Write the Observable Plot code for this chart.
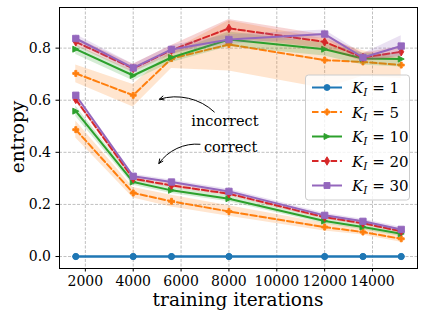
<!DOCTYPE html>
<html>
<head>
<meta charset="utf-8">
<script src="https://cdn.jsdelivr.net/npm/d3@7"></script>
<script src="https://cdn.jsdelivr.net/npm/@observablehq/plot@0.6"></script>
<style>
  html, body { margin: 0; padding: 0; background: #fff; }
  #chart { width: 422px; height: 318px; }
</style>
</head>
<body>
<div id="chart"></div>
<script>
// ---------- data ----------
const iterations = [1600, 4000, 5600, 8000, 12000, 13600, 15200];
const kValues = [1, 5, 10, 20, 30];
const xTicks = [2000, 4000, 6000, 8000, 10000, 12000, 14000];
const yTicks = [0, 0.2, 0.4, 0.6, 0.8];

// "incorrect" group (upper curves)
const incorrectK1  = [0, 0, 0, 0, 0, 0, 0];
const incorrectK5  = [0.703, 0.619, 0.760, 0.814, 0.754, 0.747, 0.735];
const incorrectK10 = [0.796, 0.695, 0.764, 0.833, 0.796, 0.760, 0.758];
const incorrectK20 = [0.824, 0.722, 0.792, 0.876, 0.824, 0.764, 0.786];
const incorrectK30 = [0.837, 0.724, 0.795, 0.833, 0.854, 0.764, 0.808];

const incorrectLoK1  = [0, 0, 0, 0, 0, 0, 0];
const incorrectHiK1  = [0, 0, 0, 0, 0, 0, 0];
const incorrectLoK5  = [0.667, 0.574, 0.722, 0.712, 0.645, 0.692, 0.683];
const incorrectHiK5  = [0.735, 0.660, 0.790, 0.905, 0.835, 0.790, 0.760];
const incorrectLoK10 = [0.776, 0.675, 0.745, 0.805, 0.770, 0.735, 0.728];
const incorrectHiK10 = [0.812, 0.712, 0.782, 0.862, 0.820, 0.780, 0.776];
const incorrectLoK20 = [0.808, 0.706, 0.774, 0.840, 0.800, 0.748, 0.766];
const incorrectHiK20 = [0.840, 0.738, 0.810, 0.910, 0.850, 0.780, 0.806];
const incorrectLoK30 = [0.822, 0.710, 0.780, 0.815, 0.838, 0.750, 0.770];
const incorrectHiK30 = [0.852, 0.738, 0.810, 0.851, 0.870, 0.778, 0.848];

// "correct" group (lower curves)
const correctK1  = [0, 0, 0, 0, 0, 0, 0];
const correctK5  = [0.487, 0.244, 0.212, 0.173, 0.113, 0.094, 0.068];
const correctK10 = [0.558, 0.286, 0.254, 0.222, 0.136, 0.113, 0.087];
const correctK20 = [0.603, 0.299, 0.273, 0.241, 0.151, 0.128, 0.097];
const correctK30 = [0.619, 0.308, 0.286, 0.250, 0.158, 0.135, 0.104];

const correctLoK1  = [0, 0, 0, 0, 0, 0, 0];
const correctHiK1  = [0, 0, 0, 0, 0, 0, 0];
const correctLoK5  = [0.455, 0.225, 0.190, 0.155, 0.098, 0.083, 0.055];
const correctHiK5  = [0.520, 0.265, 0.235, 0.195, 0.128, 0.108, 0.082];
const correctLoK10 = [0.538, 0.274, 0.242, 0.210, 0.126, 0.103, 0.077];
const correctHiK10 = [0.578, 0.298, 0.266, 0.234, 0.146, 0.123, 0.097];
const correctLoK20 = [0.595, 0.291, 0.265, 0.233, 0.143, 0.120, 0.089];
const correctHiK20 = [0.611, 0.307, 0.281, 0.249, 0.159, 0.136, 0.105];
const correctLoK30 = [0.611, 0.300, 0.278, 0.242, 0.150, 0.127, 0.096];
const correctHiK30 = [0.627, 0.316, 0.294, 0.258, 0.166, 0.143, 0.112];

// annotations (data coordinates)
const annotationLabels = ["incorrect", "correct"];
const annotationTextX = [7833, 8071];
const annotationTextY = [0.520, 0.419];
const arrowFromX = [7388, 6792];
const arrowFromY = [0.555, 0.431];
const arrowToX = [5096, 5071];
const arrowToY = [0.604, 0.357];

const xLabel = "training iterations";
const yLabel = "entropy";

// ---------- styles ----------
const colors = ["#1f77b4", "#ff7f0e", "#2ca02c", "#d62728", "#9467bd"];
const dashes = [null, "6.5,2.8", null, "6.5,2.8", null];

const sz = (size) => Math.sqrt(size / Math.PI); // half marker size
const symCircle = { draw(c, size) { const h = sz(size); c.moveTo(h, 0); c.arc(0, 0, h, 0, 2 * Math.PI); } };
const symPlus = { draw(c, size) {
  const h = sz(size), t = h / 3;
  const p = [[-t,-h],[t,-h],[t,-t],[h,-t],[h,t],[t,t],[t,h],[-t,h],[-t,t],[-h,t],[-h,-t],[-t,-t]];
  c.moveTo(p[0][0], p[0][1]); for (let i = 1; i < p.length; i++) c.lineTo(p[i][0], p[i][1]); c.closePath(); } };
const symTriRight = { draw(c, size) { const h = sz(size); c.moveTo(h, 0); c.lineTo(-h, -h); c.lineTo(-h, h); c.closePath(); } };
const symThinDiamond = { draw(c, size) { const h = sz(size); const w = 0.85 * h, v = 1.41 * h;
  c.moveTo(0, -v); c.lineTo(w, 0); c.lineTo(0, v); c.lineTo(-w, 0); c.closePath(); } };
const symSquare = { draw(c, size) { const h = sz(size); c.rect(-h, -h, 2 * h, 2 * h); } };
const symbols = [symCircle, symPlus, symTriRight, symThinDiamond, symSquare];

// ---------- build rows ----------
const incorrectMeans = [incorrectK1, incorrectK5, incorrectK10, incorrectK20, incorrectK30];
const incorrectLos = [incorrectLoK1, incorrectLoK5, incorrectLoK10, incorrectLoK20, incorrectLoK30];
const incorrectHis = [incorrectHiK1, incorrectHiK5, incorrectHiK10, incorrectHiK20, incorrectHiK30];
const correctMeans = [correctK1, correctK5, correctK10, correctK20, correctK30];
const correctLos = [correctLoK1, correctLoK5, correctLoK10, correctLoK20, correctLoK30];
const correctHis = [correctHiK1, correctHiK5, correctHiK10, correctHiK20, correctHiK30];

function rowsFor(si) {
  const rows = [];
  [["incorrect", incorrectMeans, incorrectLos, incorrectHis], ["correct", correctMeans, correctLos, correctHis]]
    .forEach(([g, M, L, H]) => {
      iterations.forEach((x, i) => rows.push({ group: g, x, y: M[si][i], lo: L[si][i], hi: H[si][i] }));
    });
  return rows;
}

const font = "DejaVu Serif";
const marks = [
  Plot.gridX(xTicks, { stroke: "#b0b0b0", strokeOpacity: 1, strokeWidth: 0.8, strokeDasharray: "3,1.5" }),
  Plot.gridY(yTicks, { stroke: "#b0b0b0", strokeOpacity: 1, strokeWidth: 0.8, strokeDasharray: "3,1.5" })
];
kValues.forEach((k, si) => {
  const rows = rowsFor(si);
  if (si > 0) marks.push(Plot.areaY(rows, { x: "x", y1: "lo", y2: "hi", z: "group", fill: colors[si], fillOpacity: 0.2, curve: "linear" }));
  marks.push(Plot.line(rows, { x: "x", y: "y", z: "group", stroke: colors[si], strokeWidth: 2, strokeDasharray: dashes[si] || undefined }));
  marks.push(Plot.dot(rows, { x: "x", y: "y", symbol: symbols[si], r: si === 4 ? 3.2 : 3, fill: colors[si], stroke: colors[si], strokeWidth: 0.9 }));
});
const annIdx = annotationLabels.map((_, i) => i);
marks.push(
  Plot.arrow(annIdx, { x1: i => arrowFromX[i], y1: i => arrowFromY[i], x2: i => arrowToX[i], y2: i => arrowToY[i],
    bend: -30, stroke: "black", strokeWidth: 1, headLength: 7, headAngle: 50 }),
  Plot.text(annIdx, { x: i => annotationTextX[i], y: i => annotationTextY[i], text: i => annotationLabels[i],
    fontSize: 14.5, fontFamily: font, fill: "black" }),
  Plot.frame({ stroke: "black", strokeWidth: 1 }),
  Plot.axisX({ ticks: xTicks, tickSize: 3.5, tickPadding: 4, fontSize: 14, label: null, tickFormat: d3.format("d"), fontFamily: font, color: "black" }),
  Plot.axisY({ ticks: yTicks, tickSize: 3.5, tickPadding: 5, fontSize: 14, label: null, tickFormat: d3.format(".1f"), fontFamily: font, color: "black" })
);

const chart = Plot.plot({
  width: 422, height: 318,
  marginLeft: 59, marginRight: 5, marginTop: 7, marginBottom: 50,
  style: { fontFamily: font, background: "white", color: "black" },
  x: { domain: [920, 15880] },
  y: { domain: [-0.046, 0.956] },
  marks
});
document.getElementById("chart").appendChild(chart);

// ---------- axis titles and legend ----------
const svg = d3.select(chart);
svg.append("text").attr("x", 238).attr("y", 306).attr("text-anchor", "middle")
  .attr("font-family", font).attr("font-size", 18.5).attr("fill", "black").text(xLabel);
svg.append("text").attr("transform", "translate(24,137) rotate(-90)").attr("text-anchor", "middle")
  .attr("font-family", font).attr("font-size", 18.5).attr("fill", "black").text(yLabel);

const lg = svg.append("g");
lg.append("rect").attr("x", 305.5).attr("y", 75).attr("width", 104).attr("height", 125).attr("rx", 3)
  .attr("fill", "white").attr("fill-opacity", 0.8).attr("stroke", "#cccccc").attr("stroke-width", 1);
kValues.forEach((k, si) => {
  const yy = 87.5 + si * 24.5;
  lg.append("line").attr("x1", 312).attr("x2", 342).attr("y1", yy).attr("y2", yy)
    .attr("stroke", colors[si]).attr("stroke-width", 2).attr("stroke-dasharray", dashes[si]);
  lg.append("path").attr("transform", `translate(327,${yy})`)
    .attr("d", d3.symbol(symbols[si], Math.PI * 9)())
    .attr("fill", colors[si]).attr("stroke", colors[si]).attr("stroke-width", 0.9);
  const t = lg.append("text").attr("x", 352).attr("y", yy + 5.5).attr("text-anchor", "start")
    .attr("font-family", font).attr("font-size", 15).attr("fill", "black");
  t.append("tspan").attr("font-style", "italic").text("K");
  t.append("tspan").attr("font-style", "italic").attr("font-size", 10.5).attr("dy", 3).text("I");
  t.append("tspan").attr("dy", -3).text(` = ${k}`);
});
</script>
</body>
</html>
